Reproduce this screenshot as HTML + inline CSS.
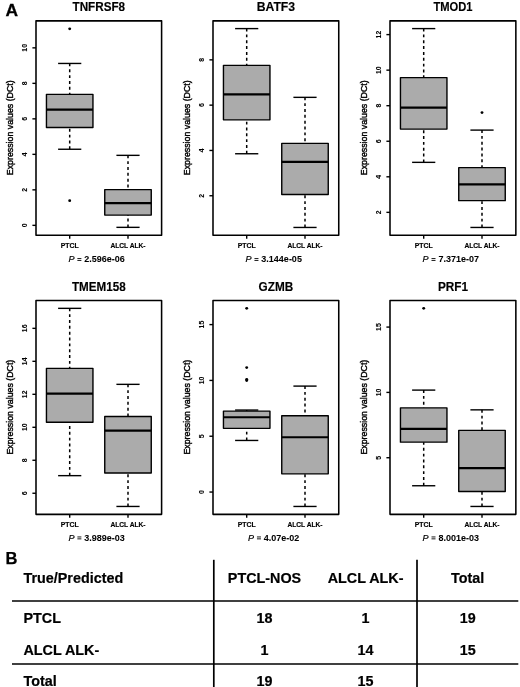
<!DOCTYPE html>
<html><head><meta charset="utf-8"><style>
html,body{margin:0;padding:0;background:#fff;}
body{width:520px;height:687px;overflow:hidden;}
svg{display:block;font-family:"Liberation Sans", sans-serif;will-change:transform;}
</style></head><body>
<svg width="520" height="687" viewBox="0 0 520 687" font-family='"Liberation Sans", sans-serif'>
<rect width="520" height="687" fill="#fff"/>
<g transform="translate(0,0.35)">
<text x="98.8" y="10.6" text-anchor="middle" font-weight="bold" font-size="12.2" stroke="#000" stroke-width="0.15" textLength="52.6" lengthAdjust="spacingAndGlyphs">TNFRSF8</text>
<rect x="36" y="20.5" width="125.6" height="214.4" fill="none" stroke="#000" stroke-width="1.55" stroke-linejoin="round"/>
<line x1="32.4" y1="225" x2="36" y2="225" stroke="#000" stroke-width="1.4"/>
<text transform="translate(27.4,225) rotate(-90)" text-anchor="middle" font-weight="bold" font-size="6.9" stroke="#000" stroke-width="0.1">0</text>
<line x1="32.4" y1="189.5" x2="36" y2="189.5" stroke="#000" stroke-width="1.4"/>
<text transform="translate(27.4,189.5) rotate(-90)" text-anchor="middle" font-weight="bold" font-size="6.9" stroke="#000" stroke-width="0.1">2</text>
<line x1="32.4" y1="154" x2="36" y2="154" stroke="#000" stroke-width="1.4"/>
<text transform="translate(27.4,154) rotate(-90)" text-anchor="middle" font-weight="bold" font-size="6.9" stroke="#000" stroke-width="0.1">4</text>
<line x1="32.4" y1="118.5" x2="36" y2="118.5" stroke="#000" stroke-width="1.4"/>
<text transform="translate(27.4,118.5) rotate(-90)" text-anchor="middle" font-weight="bold" font-size="6.9" stroke="#000" stroke-width="0.1">6</text>
<line x1="32.4" y1="83" x2="36" y2="83" stroke="#000" stroke-width="1.4"/>
<text transform="translate(27.4,83) rotate(-90)" text-anchor="middle" font-weight="bold" font-size="6.9" stroke="#000" stroke-width="0.1">8</text>
<line x1="32.4" y1="47.5" x2="36" y2="47.5" stroke="#000" stroke-width="1.4"/>
<text transform="translate(27.4,47.5) rotate(-90)" text-anchor="middle" font-weight="bold" font-size="6.9" stroke="#000" stroke-width="0.1">10</text>
<text transform="translate(13,127.4) rotate(-90)" text-anchor="middle" font-size="8.8" stroke="#000" stroke-width="0.4">Expression values (DCt)</text>
<line x1="69.7" y1="63.1" x2="69.7" y2="94" stroke="#000" stroke-width="1.5" stroke-dasharray="2.92 2.92"/>
<line x1="69.7" y1="148.9" x2="69.7" y2="127.1" stroke="#000" stroke-width="1.5" stroke-dasharray="2.92 2.92"/>
<line x1="58.1" y1="63.1" x2="81.3" y2="63.1" stroke="#000" stroke-width="1.4"/>
<line x1="58.1" y1="148.9" x2="81.3" y2="148.9" stroke="#000" stroke-width="1.4"/>
<rect x="46.45" y="94" width="46.5" height="33.1" fill="#ababab" stroke="#000" stroke-width="1.4" stroke-linejoin="round"/>
<line x1="46.45" y1="109.3" x2="92.95" y2="109.3" stroke="#000" stroke-width="2.2"/>
<circle cx="69.7" cy="28.5" r="1.45" fill="#000"/>
<circle cx="69.7" cy="200.3" r="1.45" fill="#000"/>
<line x1="69.7" y1="234.9" x2="69.7" y2="238.3" stroke="#000" stroke-width="1.4"/>
<line x1="128" y1="155" x2="128" y2="189.25" stroke="#000" stroke-width="1.5" stroke-dasharray="2.92 2.92"/>
<line x1="128" y1="227" x2="128" y2="214.75" stroke="#000" stroke-width="1.5" stroke-dasharray="2.92 2.92"/>
<line x1="116.4" y1="155" x2="139.6" y2="155" stroke="#000" stroke-width="1.4"/>
<line x1="116.4" y1="227" x2="139.6" y2="227" stroke="#000" stroke-width="1.4"/>
<rect x="104.75" y="189.25" width="46.5" height="25.5" fill="#ababab" stroke="#000" stroke-width="1.4" stroke-linejoin="round"/>
<line x1="104.75" y1="202.75" x2="151.25" y2="202.75" stroke="#000" stroke-width="2.2"/>
<line x1="128" y1="234.9" x2="128" y2="238.3" stroke="#000" stroke-width="1.4"/>
<text x="69.7" y="247.4" text-anchor="middle" font-weight="bold" font-size="6.9" stroke="#000" stroke-width="0.15">PTCL</text>
<text x="128" y="247.4" text-anchor="middle" font-weight="bold" font-size="6.9" stroke="#000" stroke-width="0.15" textLength="35.2" lengthAdjust="spacingAndGlyphs">ALCL ALK-</text>
<text x="68.49" y="262.1" font-size="9" font-style="italic" stroke="#000" stroke-width="0.2">P</text>
<line x1="77.39" y1="258.2" x2="81.39" y2="258.2" stroke="#000" stroke-width="0.9"/>
<line x1="77.39" y1="260.1" x2="81.39" y2="260.1" stroke="#000" stroke-width="0.9"/>
<text x="84.29" y="262.1" font-size="9.6" font-weight="bold" stroke="#000" stroke-width="0.05" textLength="40.53" lengthAdjust="spacingAndGlyphs">2.596e-06</text>
<text x="275.88" y="10.6" text-anchor="middle" font-weight="bold" font-size="12.2" stroke="#000" stroke-width="0.15" textLength="38.4" lengthAdjust="spacingAndGlyphs">BATF3</text>
<rect x="213" y="20.5" width="125.75" height="214.4" fill="none" stroke="#000" stroke-width="1.55" stroke-linejoin="round"/>
<line x1="209.4" y1="195.4" x2="213" y2="195.4" stroke="#000" stroke-width="1.4"/>
<text transform="translate(204.4,195.4) rotate(-90)" text-anchor="middle" font-weight="bold" font-size="6.9" stroke="#000" stroke-width="0.1">2</text>
<line x1="209.4" y1="150.1" x2="213" y2="150.1" stroke="#000" stroke-width="1.4"/>
<text transform="translate(204.4,150.1) rotate(-90)" text-anchor="middle" font-weight="bold" font-size="6.9" stroke="#000" stroke-width="0.1">4</text>
<line x1="209.4" y1="104.8" x2="213" y2="104.8" stroke="#000" stroke-width="1.4"/>
<text transform="translate(204.4,104.8) rotate(-90)" text-anchor="middle" font-weight="bold" font-size="6.9" stroke="#000" stroke-width="0.1">6</text>
<line x1="209.4" y1="59.5" x2="213" y2="59.5" stroke="#000" stroke-width="1.4"/>
<text transform="translate(204.4,59.5) rotate(-90)" text-anchor="middle" font-weight="bold" font-size="6.9" stroke="#000" stroke-width="0.1">8</text>
<text transform="translate(190,127.4) rotate(-90)" text-anchor="middle" font-size="8.8" stroke="#000" stroke-width="0.4">Expression values (DCt)</text>
<line x1="246.7" y1="28.25" x2="246.7" y2="65" stroke="#000" stroke-width="1.5" stroke-dasharray="2.92 2.92"/>
<line x1="246.7" y1="153.4" x2="246.7" y2="119.5" stroke="#000" stroke-width="1.5" stroke-dasharray="2.92 2.92"/>
<line x1="235.1" y1="28.25" x2="258.3" y2="28.25" stroke="#000" stroke-width="1.4"/>
<line x1="235.1" y1="153.4" x2="258.3" y2="153.4" stroke="#000" stroke-width="1.4"/>
<rect x="223.45" y="65" width="46.5" height="54.5" fill="#ababab" stroke="#000" stroke-width="1.4" stroke-linejoin="round"/>
<line x1="223.45" y1="94" x2="269.95" y2="94" stroke="#000" stroke-width="2.2"/>
<line x1="246.7" y1="234.9" x2="246.7" y2="238.3" stroke="#000" stroke-width="1.4"/>
<line x1="305" y1="97" x2="305" y2="143" stroke="#000" stroke-width="1.5" stroke-dasharray="2.92 2.92"/>
<line x1="305" y1="227.1" x2="305" y2="194.2" stroke="#000" stroke-width="1.5" stroke-dasharray="2.92 2.92"/>
<line x1="293.4" y1="97" x2="316.6" y2="97" stroke="#000" stroke-width="1.4"/>
<line x1="293.4" y1="227.1" x2="316.6" y2="227.1" stroke="#000" stroke-width="1.4"/>
<rect x="281.75" y="143" width="46.5" height="51.2" fill="#ababab" stroke="#000" stroke-width="1.4" stroke-linejoin="round"/>
<line x1="281.75" y1="161.6" x2="328.25" y2="161.6" stroke="#000" stroke-width="2.2"/>
<line x1="305" y1="234.9" x2="305" y2="238.3" stroke="#000" stroke-width="1.4"/>
<text x="246.7" y="247.4" text-anchor="middle" font-weight="bold" font-size="6.9" stroke="#000" stroke-width="0.15">PTCL</text>
<text x="305" y="247.4" text-anchor="middle" font-weight="bold" font-size="6.9" stroke="#000" stroke-width="0.15" textLength="35.2" lengthAdjust="spacingAndGlyphs">ALCL ALK-</text>
<text x="245.56" y="262.1" font-size="9" font-style="italic" stroke="#000" stroke-width="0.2">P</text>
<line x1="254.46" y1="258.2" x2="258.46" y2="258.2" stroke="#000" stroke-width="0.9"/>
<line x1="254.46" y1="260.1" x2="258.46" y2="260.1" stroke="#000" stroke-width="0.9"/>
<text x="261.36" y="262.1" font-size="9.6" font-weight="bold" stroke="#000" stroke-width="0.05" textLength="40.53" lengthAdjust="spacingAndGlyphs">3.144e-05</text>
<text x="452.93" y="10.6" text-anchor="middle" font-weight="bold" font-size="12.2" stroke="#000" stroke-width="0.15" textLength="39.1" lengthAdjust="spacingAndGlyphs">TMOD1</text>
<rect x="390" y="20.5" width="125.85" height="214.4" fill="none" stroke="#000" stroke-width="1.55" stroke-linejoin="round"/>
<line x1="386.4" y1="212" x2="390" y2="212" stroke="#000" stroke-width="1.4"/>
<text transform="translate(381.4,212) rotate(-90)" text-anchor="middle" font-weight="bold" font-size="6.9" stroke="#000" stroke-width="0.1">2</text>
<line x1="386.4" y1="176.45" x2="390" y2="176.45" stroke="#000" stroke-width="1.4"/>
<text transform="translate(381.4,176.45) rotate(-90)" text-anchor="middle" font-weight="bold" font-size="6.9" stroke="#000" stroke-width="0.1">4</text>
<line x1="386.4" y1="140.9" x2="390" y2="140.9" stroke="#000" stroke-width="1.4"/>
<text transform="translate(381.4,140.9) rotate(-90)" text-anchor="middle" font-weight="bold" font-size="6.9" stroke="#000" stroke-width="0.1">6</text>
<line x1="386.4" y1="105.35" x2="390" y2="105.35" stroke="#000" stroke-width="1.4"/>
<text transform="translate(381.4,105.35) rotate(-90)" text-anchor="middle" font-weight="bold" font-size="6.9" stroke="#000" stroke-width="0.1">8</text>
<line x1="386.4" y1="69.8" x2="390" y2="69.8" stroke="#000" stroke-width="1.4"/>
<text transform="translate(381.4,69.8) rotate(-90)" text-anchor="middle" font-weight="bold" font-size="6.9" stroke="#000" stroke-width="0.1">10</text>
<line x1="386.4" y1="34.25" x2="390" y2="34.25" stroke="#000" stroke-width="1.4"/>
<text transform="translate(381.4,34.25) rotate(-90)" text-anchor="middle" font-weight="bold" font-size="6.9" stroke="#000" stroke-width="0.1">12</text>
<text transform="translate(367,127.4) rotate(-90)" text-anchor="middle" font-size="8.8" stroke="#000" stroke-width="0.4">Expression values (DCt)</text>
<line x1="423.7" y1="28.25" x2="423.7" y2="77.25" stroke="#000" stroke-width="1.5" stroke-dasharray="2.92 2.92"/>
<line x1="423.7" y1="162" x2="423.7" y2="128.75" stroke="#000" stroke-width="1.5" stroke-dasharray="2.92 2.92"/>
<line x1="412.1" y1="28.25" x2="435.3" y2="28.25" stroke="#000" stroke-width="1.4"/>
<line x1="412.1" y1="162" x2="435.3" y2="162" stroke="#000" stroke-width="1.4"/>
<rect x="400.45" y="77.25" width="46.5" height="51.5" fill="#ababab" stroke="#000" stroke-width="1.4" stroke-linejoin="round"/>
<line x1="400.45" y1="107.25" x2="446.95" y2="107.25" stroke="#000" stroke-width="2.2"/>
<line x1="423.7" y1="234.9" x2="423.7" y2="238.3" stroke="#000" stroke-width="1.4"/>
<line x1="482" y1="129.75" x2="482" y2="167.3" stroke="#000" stroke-width="1.5" stroke-dasharray="2.92 2.92"/>
<line x1="482" y1="227.1" x2="482" y2="200.3" stroke="#000" stroke-width="1.5" stroke-dasharray="2.92 2.92"/>
<line x1="470.4" y1="129.75" x2="493.6" y2="129.75" stroke="#000" stroke-width="1.4"/>
<line x1="470.4" y1="227.1" x2="493.6" y2="227.1" stroke="#000" stroke-width="1.4"/>
<rect x="458.75" y="167.3" width="46.5" height="33" fill="#ababab" stroke="#000" stroke-width="1.4" stroke-linejoin="round"/>
<line x1="458.75" y1="184" x2="505.25" y2="184" stroke="#000" stroke-width="2.2"/>
<circle cx="482" cy="112.25" r="1.45" fill="#000"/>
<line x1="482" y1="234.9" x2="482" y2="238.3" stroke="#000" stroke-width="1.4"/>
<text x="423.7" y="247.4" text-anchor="middle" font-weight="bold" font-size="6.9" stroke="#000" stroke-width="0.15">PTCL</text>
<text x="482" y="247.4" text-anchor="middle" font-weight="bold" font-size="6.9" stroke="#000" stroke-width="0.15" textLength="35.2" lengthAdjust="spacingAndGlyphs">ALCL ALK-</text>
<text x="422.61" y="262.1" font-size="9" font-style="italic" stroke="#000" stroke-width="0.2">P</text>
<line x1="431.51" y1="258.2" x2="435.51" y2="258.2" stroke="#000" stroke-width="0.9"/>
<line x1="431.51" y1="260.1" x2="435.51" y2="260.1" stroke="#000" stroke-width="0.9"/>
<text x="438.41" y="262.1" font-size="9.6" font-weight="bold" stroke="#000" stroke-width="0.05" textLength="40.53" lengthAdjust="spacingAndGlyphs">7.371e-07</text>
<text x="98.8" y="290.3" text-anchor="middle" font-weight="bold" font-size="12.2" stroke="#000" stroke-width="0.15" textLength="53.7" lengthAdjust="spacingAndGlyphs">TMEM158</text>
<rect x="36" y="300.2" width="125.6" height="213.8" fill="none" stroke="#000" stroke-width="1.55" stroke-linejoin="round"/>
<line x1="32.4" y1="492.9" x2="36" y2="492.9" stroke="#000" stroke-width="1.4"/>
<text transform="translate(27.4,492.9) rotate(-90)" text-anchor="middle" font-weight="bold" font-size="6.9" stroke="#000" stroke-width="0.1">6</text>
<line x1="32.4" y1="459.92" x2="36" y2="459.92" stroke="#000" stroke-width="1.4"/>
<text transform="translate(27.4,459.92) rotate(-90)" text-anchor="middle" font-weight="bold" font-size="6.9" stroke="#000" stroke-width="0.1">8</text>
<line x1="32.4" y1="426.94" x2="36" y2="426.94" stroke="#000" stroke-width="1.4"/>
<text transform="translate(27.4,426.94) rotate(-90)" text-anchor="middle" font-weight="bold" font-size="6.9" stroke="#000" stroke-width="0.1">10</text>
<line x1="32.4" y1="393.96" x2="36" y2="393.96" stroke="#000" stroke-width="1.4"/>
<text transform="translate(27.4,393.96) rotate(-90)" text-anchor="middle" font-weight="bold" font-size="6.9" stroke="#000" stroke-width="0.1">12</text>
<line x1="32.4" y1="360.98" x2="36" y2="360.98" stroke="#000" stroke-width="1.4"/>
<text transform="translate(27.4,360.98) rotate(-90)" text-anchor="middle" font-weight="bold" font-size="6.9" stroke="#000" stroke-width="0.1">14</text>
<line x1="32.4" y1="328" x2="36" y2="328" stroke="#000" stroke-width="1.4"/>
<text transform="translate(27.4,328) rotate(-90)" text-anchor="middle" font-weight="bold" font-size="6.9" stroke="#000" stroke-width="0.1">16</text>
<text transform="translate(13,406.8) rotate(-90)" text-anchor="middle" font-size="8.8" stroke="#000" stroke-width="0.4">Expression values (DCt)</text>
<line x1="69.7" y1="308" x2="69.7" y2="368" stroke="#000" stroke-width="1.5" stroke-dasharray="2.92 2.92"/>
<line x1="69.7" y1="475.3" x2="69.7" y2="421.9" stroke="#000" stroke-width="1.5" stroke-dasharray="2.92 2.92"/>
<line x1="58.1" y1="308" x2="81.3" y2="308" stroke="#000" stroke-width="1.4"/>
<line x1="58.1" y1="475.3" x2="81.3" y2="475.3" stroke="#000" stroke-width="1.4"/>
<rect x="46.45" y="368" width="46.5" height="53.9" fill="#ababab" stroke="#000" stroke-width="1.4" stroke-linejoin="round"/>
<line x1="46.45" y1="393.25" x2="92.95" y2="393.25" stroke="#000" stroke-width="2.2"/>
<line x1="69.7" y1="514" x2="69.7" y2="517.4" stroke="#000" stroke-width="1.4"/>
<line x1="128" y1="384" x2="128" y2="416.2" stroke="#000" stroke-width="1.5" stroke-dasharray="2.92 2.92"/>
<line x1="128" y1="506.1" x2="128" y2="472.7" stroke="#000" stroke-width="1.5" stroke-dasharray="2.92 2.92"/>
<line x1="116.4" y1="384" x2="139.6" y2="384" stroke="#000" stroke-width="1.4"/>
<line x1="116.4" y1="506.1" x2="139.6" y2="506.1" stroke="#000" stroke-width="1.4"/>
<rect x="104.75" y="416.2" width="46.5" height="56.5" fill="#ababab" stroke="#000" stroke-width="1.4" stroke-linejoin="round"/>
<line x1="104.75" y1="430.3" x2="151.25" y2="430.3" stroke="#000" stroke-width="2.2"/>
<line x1="128" y1="514" x2="128" y2="517.4" stroke="#000" stroke-width="1.4"/>
<text x="69.7" y="526.5" text-anchor="middle" font-weight="bold" font-size="6.9" stroke="#000" stroke-width="0.15">PTCL</text>
<text x="128" y="526.5" text-anchor="middle" font-weight="bold" font-size="6.9" stroke="#000" stroke-width="0.15" textLength="35.2" lengthAdjust="spacingAndGlyphs">ALCL ALK-</text>
<text x="68.49" y="540.5" font-size="9" font-style="italic" stroke="#000" stroke-width="0.2">P</text>
<line x1="77.39" y1="536.6" x2="81.39" y2="536.6" stroke="#000" stroke-width="0.9"/>
<line x1="77.39" y1="538.5" x2="81.39" y2="538.5" stroke="#000" stroke-width="0.9"/>
<text x="84.29" y="540.5" font-size="9.6" font-weight="bold" stroke="#000" stroke-width="0.05" textLength="40.53" lengthAdjust="spacingAndGlyphs">3.989e-03</text>
<text x="275.88" y="290.3" text-anchor="middle" font-weight="bold" font-size="12.2" stroke="#000" stroke-width="0.15" textLength="34.6" lengthAdjust="spacingAndGlyphs">GZMB</text>
<rect x="213" y="300.2" width="125.75" height="213.8" fill="none" stroke="#000" stroke-width="1.55" stroke-linejoin="round"/>
<line x1="209.4" y1="491.7" x2="213" y2="491.7" stroke="#000" stroke-width="1.4"/>
<text transform="translate(204.4,491.7) rotate(-90)" text-anchor="middle" font-weight="bold" font-size="6.9" stroke="#000" stroke-width="0.1">0</text>
<line x1="209.4" y1="435.88" x2="213" y2="435.88" stroke="#000" stroke-width="1.4"/>
<text transform="translate(204.4,435.88) rotate(-90)" text-anchor="middle" font-weight="bold" font-size="6.9" stroke="#000" stroke-width="0.1">5</text>
<line x1="209.4" y1="380.07" x2="213" y2="380.07" stroke="#000" stroke-width="1.4"/>
<text transform="translate(204.4,380.07) rotate(-90)" text-anchor="middle" font-weight="bold" font-size="6.9" stroke="#000" stroke-width="0.1">10</text>
<line x1="209.4" y1="324.25" x2="213" y2="324.25" stroke="#000" stroke-width="1.4"/>
<text transform="translate(204.4,324.25) rotate(-90)" text-anchor="middle" font-weight="bold" font-size="6.9" stroke="#000" stroke-width="0.1">15</text>
<text transform="translate(190,406.8) rotate(-90)" text-anchor="middle" font-size="8.8" stroke="#000" stroke-width="0.4">Expression values (DCt)</text>
<line x1="246.7" y1="409.7" x2="246.7" y2="410.75" stroke="#000" stroke-width="1.5" stroke-dasharray="2.92 2.92"/>
<line x1="246.7" y1="440.1" x2="246.7" y2="428" stroke="#000" stroke-width="1.5" stroke-dasharray="2.92 2.92"/>
<line x1="235.1" y1="409.7" x2="258.3" y2="409.7" stroke="#000" stroke-width="1.4"/>
<line x1="235.1" y1="440.1" x2="258.3" y2="440.1" stroke="#000" stroke-width="1.4"/>
<rect x="223.45" y="410.75" width="46.5" height="17.25" fill="#ababab" stroke="#000" stroke-width="1.4" stroke-linejoin="round"/>
<line x1="223.45" y1="416.9" x2="269.95" y2="416.9" stroke="#000" stroke-width="2.2"/>
<circle cx="246.7" cy="308" r="1.45" fill="#000"/>
<circle cx="246.7" cy="367.25" r="1.45" fill="#000"/>
<circle cx="246.7" cy="379" r="1.45" fill="#000"/>
<circle cx="246.7" cy="380.25" r="1.45" fill="#000"/>
<line x1="246.7" y1="514" x2="246.7" y2="517.4" stroke="#000" stroke-width="1.4"/>
<line x1="305" y1="385.75" x2="305" y2="415.4" stroke="#000" stroke-width="1.5" stroke-dasharray="2.92 2.92"/>
<line x1="305" y1="506.1" x2="305" y2="473.5" stroke="#000" stroke-width="1.5" stroke-dasharray="2.92 2.92"/>
<line x1="293.4" y1="385.75" x2="316.6" y2="385.75" stroke="#000" stroke-width="1.4"/>
<line x1="293.4" y1="506.1" x2="316.6" y2="506.1" stroke="#000" stroke-width="1.4"/>
<rect x="281.75" y="415.4" width="46.5" height="58.1" fill="#ababab" stroke="#000" stroke-width="1.4" stroke-linejoin="round"/>
<line x1="281.75" y1="436.9" x2="328.25" y2="436.9" stroke="#000" stroke-width="2.2"/>
<line x1="305" y1="514" x2="305" y2="517.4" stroke="#000" stroke-width="1.4"/>
<text x="246.7" y="526.5" text-anchor="middle" font-weight="bold" font-size="6.9" stroke="#000" stroke-width="0.15">PTCL</text>
<text x="305" y="526.5" text-anchor="middle" font-weight="bold" font-size="6.9" stroke="#000" stroke-width="0.15" textLength="35.2" lengthAdjust="spacingAndGlyphs">ALCL ALK-</text>
<text x="248.06" y="540.5" font-size="9" font-style="italic" stroke="#000" stroke-width="0.2">P</text>
<line x1="256.96" y1="536.6" x2="260.96" y2="536.6" stroke="#000" stroke-width="0.9"/>
<line x1="256.96" y1="538.5" x2="260.96" y2="538.5" stroke="#000" stroke-width="0.9"/>
<text x="263.86" y="540.5" font-size="9.6" font-weight="bold" stroke="#000" stroke-width="0.05" textLength="35.52" lengthAdjust="spacingAndGlyphs">4.07e-02</text>
<text x="452.93" y="290.3" text-anchor="middle" font-weight="bold" font-size="12.2" stroke="#000" stroke-width="0.15" textLength="30.1" lengthAdjust="spacingAndGlyphs">PRF1</text>
<rect x="390" y="300.2" width="125.85" height="213.8" fill="none" stroke="#000" stroke-width="1.55" stroke-linejoin="round"/>
<line x1="386.4" y1="457.38" x2="390" y2="457.38" stroke="#000" stroke-width="1.4"/>
<text transform="translate(381.4,457.38) rotate(-90)" text-anchor="middle" font-weight="bold" font-size="6.9" stroke="#000" stroke-width="0.1">5</text>
<line x1="386.4" y1="392.05" x2="390" y2="392.05" stroke="#000" stroke-width="1.4"/>
<text transform="translate(381.4,392.05) rotate(-90)" text-anchor="middle" font-weight="bold" font-size="6.9" stroke="#000" stroke-width="0.1">10</text>
<line x1="386.4" y1="326.73" x2="390" y2="326.73" stroke="#000" stroke-width="1.4"/>
<text transform="translate(381.4,326.73) rotate(-90)" text-anchor="middle" font-weight="bold" font-size="6.9" stroke="#000" stroke-width="0.1">15</text>
<text transform="translate(367,406.8) rotate(-90)" text-anchor="middle" font-size="8.8" stroke="#000" stroke-width="0.4">Expression values (DCt)</text>
<line x1="423.7" y1="389.75" x2="423.7" y2="407.5" stroke="#000" stroke-width="1.5" stroke-dasharray="2.92 2.92"/>
<line x1="423.7" y1="485.4" x2="423.7" y2="441.8" stroke="#000" stroke-width="1.5" stroke-dasharray="2.92 2.92"/>
<line x1="412.1" y1="389.75" x2="435.3" y2="389.75" stroke="#000" stroke-width="1.4"/>
<line x1="412.1" y1="485.4" x2="435.3" y2="485.4" stroke="#000" stroke-width="1.4"/>
<rect x="400.45" y="407.5" width="46.5" height="34.3" fill="#ababab" stroke="#000" stroke-width="1.4" stroke-linejoin="round"/>
<line x1="400.45" y1="428.6" x2="446.95" y2="428.6" stroke="#000" stroke-width="2.2"/>
<circle cx="423.7" cy="308" r="1.45" fill="#000"/>
<line x1="423.7" y1="514" x2="423.7" y2="517.4" stroke="#000" stroke-width="1.4"/>
<line x1="482" y1="409.5" x2="482" y2="430" stroke="#000" stroke-width="1.5" stroke-dasharray="2.92 2.92"/>
<line x1="482" y1="506.1" x2="482" y2="491.1" stroke="#000" stroke-width="1.5" stroke-dasharray="2.92 2.92"/>
<line x1="470.4" y1="409.5" x2="493.6" y2="409.5" stroke="#000" stroke-width="1.4"/>
<line x1="470.4" y1="506.1" x2="493.6" y2="506.1" stroke="#000" stroke-width="1.4"/>
<rect x="458.75" y="430" width="46.5" height="61.1" fill="#ababab" stroke="#000" stroke-width="1.4" stroke-linejoin="round"/>
<line x1="458.75" y1="467.8" x2="505.25" y2="467.8" stroke="#000" stroke-width="2.2"/>
<line x1="482" y1="514" x2="482" y2="517.4" stroke="#000" stroke-width="1.4"/>
<text x="423.7" y="526.5" text-anchor="middle" font-weight="bold" font-size="6.9" stroke="#000" stroke-width="0.15">PTCL</text>
<text x="482" y="526.5" text-anchor="middle" font-weight="bold" font-size="6.9" stroke="#000" stroke-width="0.15" textLength="35.2" lengthAdjust="spacingAndGlyphs">ALCL ALK-</text>
<text x="422.61" y="540.5" font-size="9" font-style="italic" stroke="#000" stroke-width="0.2">P</text>
<line x1="431.51" y1="536.6" x2="435.51" y2="536.6" stroke="#000" stroke-width="0.9"/>
<line x1="431.51" y1="538.5" x2="435.51" y2="538.5" stroke="#000" stroke-width="0.9"/>
<text x="438.41" y="540.5" font-size="9.6" font-weight="bold" stroke="#000" stroke-width="0.05" textLength="40.53" lengthAdjust="spacingAndGlyphs">8.001e-03</text>
</g>
<text x="5.5" y="16.3" font-weight="bold" font-size="17.4" stroke="#000" stroke-width="0.3">A</text>
<text x="5.6" y="563.6" font-weight="bold" font-size="16.5" stroke="#000" stroke-width="0.25">B</text>
<line x1="213.8" y1="559.8" x2="213.8" y2="687" stroke="#000" stroke-width="1.7"/>
<line x1="417" y1="559.8" x2="417" y2="687" stroke="#000" stroke-width="1.7"/>
<line x1="12" y1="601" x2="518.3" y2="601" stroke="#000" stroke-width="1.7"/>
<line x1="12" y1="664" x2="518.3" y2="664" stroke="#000" stroke-width="1.7"/>
<text x="23.5" y="582.6" font-weight="bold" font-size="14.35" stroke="#000" stroke-width="0.2">True/Predicted</text>
<text x="264.5" y="582.6" text-anchor="middle" font-weight="bold" font-size="14.35" stroke="#000" stroke-width="0.2">PTCL-NOS</text>
<text x="365.6" y="582.6" text-anchor="middle" font-weight="bold" font-size="14.35" stroke="#000" stroke-width="0.2">ALCL ALK-</text>
<text x="467.7" y="582.6" text-anchor="middle" font-weight="bold" font-size="14.35" stroke="#000" stroke-width="0.2">Total</text>
<text x="23.5" y="623" font-weight="bold" font-size="14.35" stroke="#000" stroke-width="0.2">PTCL</text>
<text x="264.5" y="623" text-anchor="middle" font-weight="bold" font-size="14.35" stroke="#000" stroke-width="0.2">18</text>
<text x="365.6" y="623" text-anchor="middle" font-weight="bold" font-size="14.35" stroke="#000" stroke-width="0.2">1</text>
<text x="467.7" y="623" text-anchor="middle" font-weight="bold" font-size="14.35" stroke="#000" stroke-width="0.2">19</text>
<text x="23.5" y="654.5" font-weight="bold" font-size="14.35" stroke="#000" stroke-width="0.2">ALCL ALK-</text>
<text x="264.5" y="654.5" text-anchor="middle" font-weight="bold" font-size="14.35" stroke="#000" stroke-width="0.2">1</text>
<text x="365.6" y="654.5" text-anchor="middle" font-weight="bold" font-size="14.35" stroke="#000" stroke-width="0.2">14</text>
<text x="467.7" y="654.5" text-anchor="middle" font-weight="bold" font-size="14.35" stroke="#000" stroke-width="0.2">15</text>
<text x="23.5" y="685.8" font-weight="bold" font-size="14.35" stroke="#000" stroke-width="0.2">Total</text>
<text x="264.5" y="685.8" text-anchor="middle" font-weight="bold" font-size="14.35" stroke="#000" stroke-width="0.2">19</text>
<text x="365.6" y="685.8" text-anchor="middle" font-weight="bold" font-size="14.35" stroke="#000" stroke-width="0.2">15</text>
</svg>
</body></html>
